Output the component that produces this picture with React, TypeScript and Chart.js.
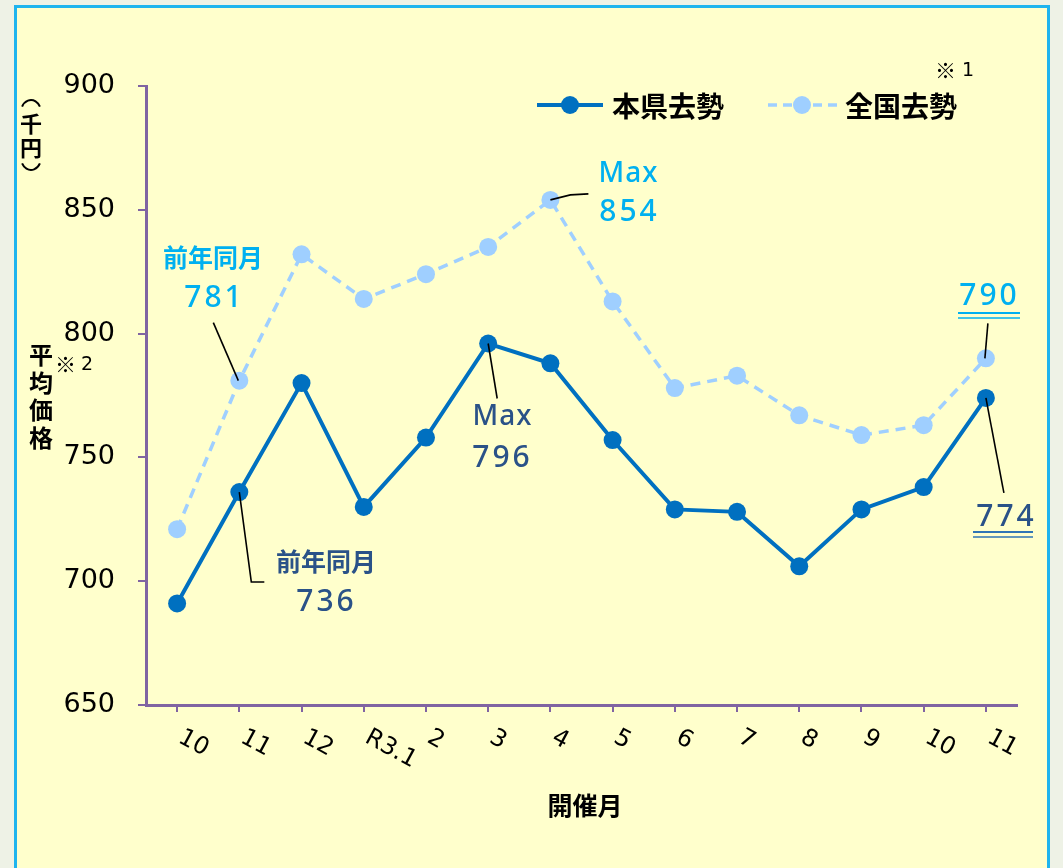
import React, { useEffect, useRef } from 'react';
import { Chart, registerables } from 'chart.js';

Chart.register(...registerables);

const months = ['10', '11', '12', 'R3.1', '2', '3', '4', '5', '6', '7', '8', '9', '10', '11'];
const prefValues = [691, 736, 780, 730, 758, 796, 788, 757, 729, 728, 706, 729, 738, 774];
const nationalValues = [721, 781, 832, 814, 824, 835, 854, 813, 778, 783, 767, 759, 763, 790];
const yMin = 650;
const yMax = 900;
const yStep = 50;
const seriesNames = ['本県去勢', '全国去勢'];
const xAxisTitle = '開催月';
const yUnitChars = ['千', '円'];
const yTitleChars = ['平', '均', '価', '格'];
const prevYearLabel = '前年同月';
const maxLabel = 'Max';
const noteMark = '※';

const DARK = '#0070c0';
const LIGHT = '#9fcfff';
const CYAN = '#00b0f0';
const NAVY = '#2a5288';
const AXIS = '#8064a2';
const JP = "'Noto Sans CJK JP', 'Noto Sans', sans-serif";
const NUM = "'DejaVu Sans', sans-serif";
const ANN = "'Noto Sans', sans-serif";

function txt(ctx: CanvasRenderingContext2D, s: string, x: number, y: number, font: string, color: string, align: CanvasTextAlign = 'center', spacing = 0) {
  ctx.save();
  ctx.font = font;
  ctx.fillStyle = color;
  ctx.textAlign = align;
  ctx.textBaseline = 'middle';
  (ctx as any).letterSpacing = spacing + 'px';
  const off = align === 'center' ? spacing / 2 : 0;
  ctx.fillText(s, x + off, y);
  ctx.restore();
}

function line(ctx: CanvasRenderingContext2D, pts: number[][], color = '#000', w = 1.6) {
  ctx.save();
  ctx.strokeStyle = color;
  ctx.lineWidth = w;
  ctx.beginPath();
  pts.forEach((p, i) => (i === 0 ? ctx.moveTo(p[0], p[1]) : ctx.lineTo(p[0], p[1])));
  ctx.stroke();
  ctx.restore();
}

const decorPlugin = {
  id: 'decor',
  afterDraw(chart: any) {
    const ctx: CanvasRenderingContext2D = chart.ctx;
    const xs = chart.scales.x;
    const ys = chart.scales.y;
    const P = (i: number, v: number) => [xs.getPixelForValue(i), ys.getPixelForValue(v)];
    const bottom = chart.chartArea.bottom;

    // x tick labels, slanted
    months.forEach((m, i) => {
      const x = xs.getPixelForValue(i);
      ctx.save();
      ctx.translate(x + 3, bottom + 31);
      ctx.rotate(0.5);
      ctx.font = `24px ${NUM}`;
      ctx.fillStyle = '#000';
      ctx.textAlign = 'left';
      ctx.textBaseline = 'middle';
      ctx.fillText(m, 0, 0);
      ctx.restore();
    });

    // axis titles
    txt(ctx, xAxisTitle, 585, 805, `bold 25px ${JP}`, '#000');
    // vertical parentheses (千円)
    ctx.save();
    ctx.strokeStyle = '#000';
    ctx.lineWidth = 2;
    ctx.beginPath();
    ctx.ellipse(31, 112, 10, 12, 0, Math.PI * 1.15, Math.PI * 1.85);
    ctx.stroke();
    ctx.beginPath();
    ctx.ellipse(31, 158, 10, 12, 0, Math.PI * 0.15, Math.PI * 0.85);
    ctx.stroke();
    ctx.restore();
    txt(ctx, yUnitChars[0], 31, 124, `bold 22px ${JP}`, '#000');
    txt(ctx, yUnitChars[1], 31, 148, `bold 22px ${JP}`, '#000');
    yTitleChars.forEach((c, i) => txt(ctx, c, 41, 355 + i * 27.5, `bold 24px ${JP}`, '#000'));
    txt(ctx, noteMark, 55, 364, `21px ${JP}`, '#000', 'left');
    txt(ctx, '2', 81, 365, `19px ${NUM}`, '#000', 'left');
    txt(ctx, noteMark, 935, 70, `21px ${JP}`, '#000', 'left');
    txt(ctx, '1', 962, 71, `19px ${NUM}`, '#000', 'left');

    // legend
    const ly = 105;
    line(ctx, [[537, ly], [603, ly]], DARK, 4);
    ctx.save();
    ctx.fillStyle = DARK;
    ctx.beginPath();
    ctx.arc(570, ly, 9, 0, Math.PI * 2);
    ctx.fill();
    ctx.restore();
    txt(ctx, seriesNames[0], 612, ly + 1, `bold 28px ${JP}`, '#000', 'left');
    ctx.save();
    ctx.setLineDash([9, 6]);
    line(ctx, [[768, ly], [838, ly]], LIGHT, 3.5);
    ctx.restore();
    ctx.save();
    ctx.fillStyle = LIGHT;
    ctx.beginPath();
    ctx.arc(802, ly, 9, 0, Math.PI * 2);
    ctx.fill();
    ctx.restore();
    txt(ctx, seriesNames[1], 845, ly + 1, `bold 28px ${JP}`, '#000', 'left');

    const lab = `bold 25px ${JP}`;
    const num = `500 30px ${ANN}`;
    const maxF = `500 28px ${ANN}`;

    // 全国 前年同月
    {
      const [x, y] = P(1, nationalValues[1]);
      line(ctx, [[x - 1, y], [x - 26, y - 58]]);
      txt(ctx, prevYearLabel, 213, 257, lab, CYAN);
      txt(ctx, String(nationalValues[1]), 213, 298, num, CYAN, 'center', 3);
    }
    // 本県 前年同月
    {
      const [x, y] = P(1, prefValues[1]);
      line(ctx, [[x, y], [x + 12, y + 90], [x + 25, y + 90]]);
      txt(ctx, prevYearLabel, 326, 561, lab, NAVY);
      txt(ctx, String(prefValues[1]), 325, 602, num, NAVY, 'center', 3);
    }
    // 本県 Max
    {
      const [x, y] = P(5, prefValues[5]);
      line(ctx, [[x, y], [x + 9, y + 55]]);
      txt(ctx, maxLabel, 502, 417, maxF, NAVY, 'center', 1);
      txt(ctx, String(prefValues[5]), 501, 458, num, NAVY, 'center', 3);
    }
    // 全国 Max
    {
      const [x, y] = P(6, nationalValues[6]);
      line(ctx, [[x, y], [x + 20, y - 5], [x + 38, y - 6]]);
      txt(ctx, maxLabel, 628, 174, maxF, CYAN, 'center', 1);
      txt(ctx, String(nationalValues[6]), 628, 212, num, CYAN, 'center', 3);
    }
    // 全国 latest
    {
      const [x, y] = P(13, nationalValues[13]);
      line(ctx, [[x + 2, y - 35], [x - 1, y]]);
      txt(ctx, String(nationalValues[13]), 988, 296, num, CYAN, 'center', 3);
      line(ctx, [[958, 313], [1020, 313]], CYAN, 2.2);
      line(ctx, [[958, 318], [1020, 318]], CYAN, 1.6);
    }
    // 本県 latest
    {
      const [x, y] = P(13, prefValues[13]);
      line(ctx, [[x, y], [x + 18, y + 95]]);
      txt(ctx, String(prefValues[13]), 1005, 517, num, NAVY, 'center', 3);
      line(ctx, [[973, 532], [1033, 532]], '#2e75b6', 2.2);
      line(ctx, [[973, 537], [1033, 537]], '#2e75b6', 1.6);
    }
  },
};

export default function App() {
  const ref = useRef<HTMLCanvasElement | null>(null);
  useEffect(() => {
    if (!ref.current) return;
    const chart = new Chart(ref.current, {
      type: 'line',
      data: {
        labels: months,
        datasets: [
          {
            label: seriesNames[1],
            data: nationalValues,
            borderColor: LIGHT,
            backgroundColor: LIGHT,
            borderWidth: 3.5,
            borderDash: [10, 7],
            pointRadius: 9,
            pointBorderWidth: 0,
            pointBackgroundColor: LIGHT,
            tension: 0,
          },
          {
            label: seriesNames[0],
            data: prefValues,
            borderColor: DARK,
            backgroundColor: DARK,
            borderWidth: 4,
            pointRadius: 9,
            pointBorderWidth: 0,
            pointBackgroundColor: DARK,
            tension: 0,
          },
        ],
      },
      options: {
        responsive: false,
        animation: false,
        layout: { padding: { top: 86, right: 46, left: 0, bottom: 0 } },
        plugins: { legend: { display: false }, tooltip: { enabled: false } },
        scales: {
          x: {
            offset: true,
            grid: { drawOnChartArea: false, drawTicks: true, tickLength: 7, color: AXIS, lineWidth: 2, offset: false },
            border: { color: AXIS, width: 3 },
            ticks: { color: 'rgba(0,0,0,0)', maxRotation: 0, minRotation: 0, font: { size: 14 } },
            afterFit: (s: any) => { s.height = 868 - 705; },
          },
          y: {
            min: yMin,
            max: yMax,
            grid: { drawOnChartArea: false, drawTicks: true, tickLength: 8, color: AXIS, lineWidth: 2 },
            border: { color: AXIS, width: 3 },
            ticks: { stepSize: yStep, color: '#000', padding: 23, font: { family: NUM, size: 27 } },
            afterFit: (s: any) => { s.width = 146; },
          },
        },
      },
      plugins: [decorPlugin],
    } as any);
    return () => chart.destroy();
  }, []);

  return (
    <div style={{ position: 'fixed', left: 0, top: 0, width: 1063, height: 868, background: '#eef2e6', overflow: 'hidden' }}>
      <div style={{ position: 'absolute', left: 14, top: 5, width: 1036, height: 900, background: '#ffffcc', border: '3px solid #1eb4ee', boxSizing: 'border-box' }} />
      <canvas ref={ref} width={1063} height={868} style={{ position: 'absolute', left: 0, top: 0, width: 1063, height: 868 }} />
    </div>
  );
}
